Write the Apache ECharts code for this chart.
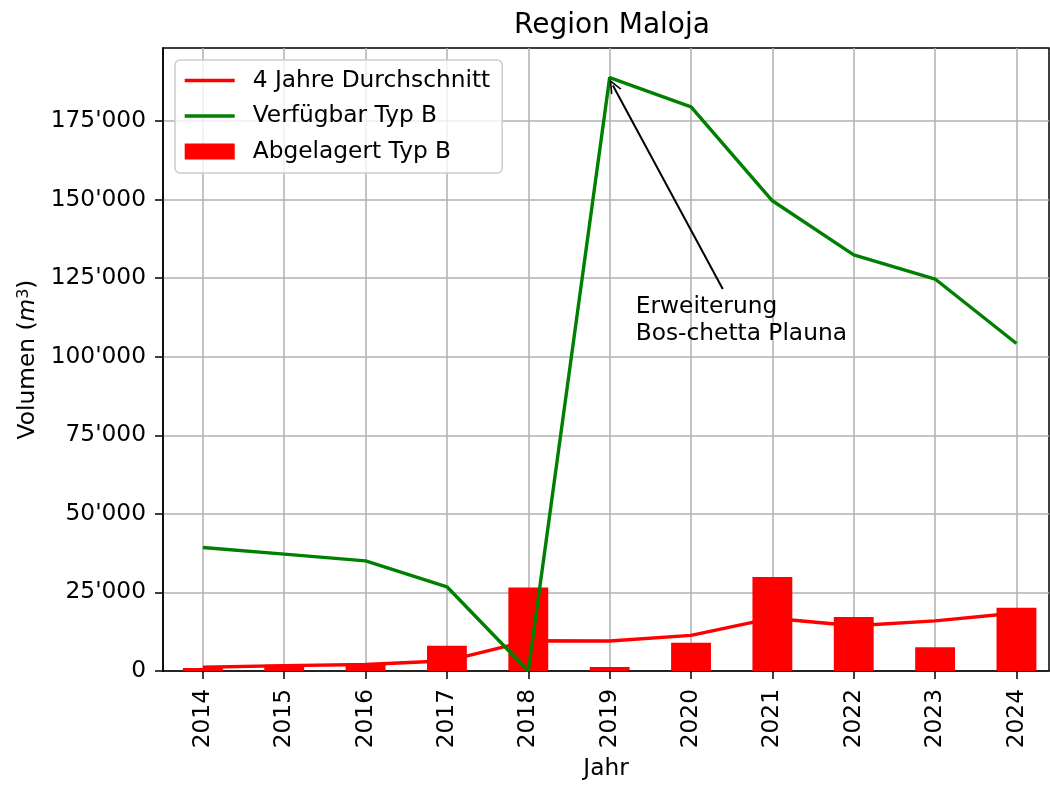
<!DOCTYPE html>
<html>
<head>
<meta charset="utf-8">
<script src="https://cdn.jsdelivr.net/npm/echarts@6/dist/echarts.min.js"></script>
<style>
  html, body { margin: 0; padding: 0; background: #fff; }
  #chart { width: 1050px; height: 785px; }
</style>
</head>
<body>
<div id="chart"></div>
<script>
  // Jahre und Werte
  var years = [2014, 2015, 2016, 2017, 2018, 2019, 2020, 2021, 2022, 2023, 2024];
  var abgelagert = [950, 2000, 2100, 8050, 26600, 1250, 9000, 29900, 17150, 7550, 20100];
  var durchschnitt = [1200, 1700, 2050, 3250, 9600, 9550, 11350, 16800, 14400, 15950, 18450];
  var verfuegbar = [39300, 37200, 35050, 26800, 0, 188800, 179500, 149600, 132400, 124700, 104200];
  var yTicks = [0, 25000, 50000, 75000, 100000, 125000, 150000, 175000];

  var font = "DejaVu Sans";
  var fs = 23.3;

  function pairs(vals) {
    return years.map(function (y, i) { return [y, vals[i]]; });
  }

  function fmt(v) {
    return String(v).replace(/\B(?=(\d{3})+(?!\d))/g, "'");
  }

  var chart = echarts.init(document.getElementById("chart"));

  chart.setOption({
    animation: false,
    backgroundColor: "#fff",
    textStyle: { fontFamily: font },
    title: {
      text: "Region Maloja",
      left: 509,
      top: 7,
      textStyle: { fontFamily: font, fontSize: 28, fontWeight: "normal", color: "#000" }
    },
    legend: {
      orient: "vertical",
      left: 175,
      top: 60,
      padding: [9, 12, 10, 8],
      itemWidth: 50,
      itemHeight: 16,
      itemGap: 12.5,
      backgroundColor: "rgba(255,255,255,0.8)",
      borderColor: "#cccccc",
      borderWidth: 1.5,
      borderRadius: 5,
      textStyle: { fontFamily: font, fontSize: fs, color: "#000", padding: [0, 0, 0, 13] },
      data: [
        { name: "4 Jahre Durchschnitt", itemStyle: { opacity: 0 }, lineStyle: { width: 3.4 } },
        { name: "Verfügbar Typ B", itemStyle: { opacity: 0 }, lineStyle: { width: 3.4 } },
        { name: "Abgelagert Typ B", icon: "rect" }
      ]
    },
    grid: {
      left: 163,
      right: 1,
      top: 48,
      bottom: 113,
      show: true,
      borderColor: "#000",
      borderWidth: 1.5,
      backgroundColor: "transparent"
    },
    xAxis: {
      type: "value",
      min: 2013.51,
      max: 2024.4,
      name: "Jahr",
      nameLocation: "middle",
      nameGap: 86,
      nameTextStyle: { fontFamily: font, fontSize: fs, color: "#000" },
      axisLine: { show: true, onZero: false, lineStyle: { color: "#000", width: 1.5 } },
      axisTick: { show: true, length: 8, customValues: years, lineStyle: { color: "#000", width: 1.5 } },
      axisLabel: {
        customValues: years,
        rotate: 90,
        margin: 18,
        fontFamily: font,
        fontSize: fs,
        color: "#000",
        formatter: function (v) { return String(v); }
      },
      splitLine: { show: true, lineStyle: { color: "#b0b0b0", width: 1.5 } }
    },
    yAxis: {
      type: "value",
      min: 0,
      max: 198200,
      interval: 25000,
      name: "Volumen ({i|m}{s|3})",
      nameLocation: "middle",
      nameGap: 121,
      nameTextStyle: {
        fontFamily: font, fontSize: fs, color: "#000",
        rich: {
          i: { fontFamily: font, fontSize: fs, fontStyle: "italic", color: "#000" },
          s: { fontFamily: font, fontSize: 16, color: "#000", verticalAlign: "top", padding: [0, 0, 8, 0] }
        }
      },
      axisLine: { show: true, lineStyle: { color: "#000", width: 1.5 } },
      axisTick: { show: true, length: 8, customValues: yTicks, lineStyle: { color: "#000", width: 1.5 } },
      axisLabel: {
        customValues: yTicks,
        margin: 17,
        fontFamily: font,
        fontSize: fs,
        color: "#000",
        formatter: fmt
      },
      splitLine: { show: true, lineStyle: { color: "#b0b0b0", width: 1.5 } }
    },
    series: [
      {
        name: "Abgelagert Typ B",
        type: "bar",
        z: 1,
        barWidth: "49%",
        itemStyle: { color: "#ff0000" },
        data: pairs(abgelagert)
      },
      {
        name: "4 Jahre Durchschnitt",
        type: "line",
        z: 3,
        symbol: "none",
        color: "#ff0000",
        lineStyle: { color: "#ff0000", width: 3.4 },
        data: pairs(durchschnitt)
      },
      {
        name: "Verfügbar Typ B",
        type: "line",
        z: 4,
        symbol: "none",
        color: "#008000",
        lineStyle: { color: "#008000", width: 3.4 },
        data: pairs(verfuegbar),
        markLine: {
          silent: true,
          symbol: ["none", "path://M0,10 L5,0 L10,10 L8.6,10 L5,2.8 L1.4,10 Z"],
          symbolSize: [12, 14],
          label: { show: false },
          lineStyle: { color: "#000", width: 2, type: "solid" },
          data: [[{ coord: [2020.39, 121500] }, { coord: [2019.04, 186300] }]]
        },
        markPoint: {
          silent: true,
          symbol: "circle",
          symbolSize: 0,
          data: [{ coord: [2019.32, 120000] }],
          label: {
            show: true,
            position: [0, 0],
            align: "left",
            verticalAlign: "top",
            fontFamily: font,
            fontSize: fs,
            lineHeight: 27,
            color: "#000",
            formatter: "Erweiterung\nBos-chetta Plauna"
          }
        }
      }
    ]
  });
</script>
</body>
</html>
